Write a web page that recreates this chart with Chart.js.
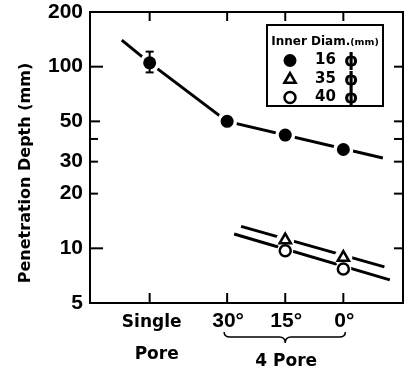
<!DOCTYPE html>
<html>
<head>
<meta charset="utf-8">
<script src="https://cdn.jsdelivr.net/npm/chart.js@4.4.1/dist/chart.umd.min.js"></script>
<style>
  body { margin: 0; background: #fff; }
  canvas { display: block; }
</style>
</head>
<body>
<canvas id="myChart" width="413" height="371"></canvas>
<script>
// categories on the bottom axis and where each one sits on the x scale
const categories = ['Single', '30°', '15°', '0°'];
const catPos = [0, 1, 1.75, 2.5];

// penetration depth (mm) per inner diameter
const d16 = [105, 50, 42, 35];
const d35 = [null, null, 11.1, 8.9];
const d40 = [null, null, 9.7, 7.7];
const err16Low = [93, null, null, null];
const err16High = [121, null, null, null];

// drawn trend lines
const fit16X = [-0.36, 0, 1, 3.01];
const fit16Y = [140, 105, 50, 31.4];
const fit35X = [1.18, 3.03];
const fit35Y = [13.2, 7.9];
const fit40X = [1.09, 3.10];
const fit40Y = [12.0, 6.7];

// y axis
const yTicks = [5, 10, 20, 30, 40, 50, 100, 200];
const yLabels = [5, 10, 20, 30, 50, 100, 200];

const legendTitle = 'Inner Diam.';
const legendUnit = '(mm)';
const legendLabels = ['16', '35', '40'];

const DV = '"DejaVu Sans", sans-serif';
const LS = '"Liberation Sans", Arial, sans-serif';

function pts(xs, ys) {
    const out = [];
    xs.forEach((v, i) => { if (ys[i] != null) out.push({ x: v, y: ys[i] }); });
    return out;
}

function fitSet(xs, ys) {
    return {
        data: pts(xs, ys), showLine: true, borderColor: '#000', borderWidth: 3,
        pointRadius: 0, order: 3
    };
}

function haloSet(ys, r) {
    return {
        data: pts(catPos, ys), showLine: false, pointRadius: r,
        pointBackgroundColor: '#fff', pointBorderWidth: 0, order: 2
    };
}

const markers = [
    { style: 'circle', r: 6.5, fill: '#000', bw: 0 },
    { style: 'triangle', r: 6.5, fill: '#fff', bw: 2.5 },
    { style: 'circle', r: 5.5, fill: '#fff', bw: 2.5 }
];

function markSet(ys, m) {
    return {
        data: pts(catPos, ys), showLine: false, pointStyle: m.style, pointRadius: m.r,
        pointBackgroundColor: m.fill, pointBorderColor: '#000', pointBorderWidth: m.bw, order: 1
    };
}

function line(ctx, x1, y1, x2, y2) {
    ctx.beginPath();
    ctx.moveTo(x1, y1);
    ctx.lineTo(x2, y2);
    ctx.stroke();
}

function drawMarker(ctx, m, px, py) {
    ctx.fillStyle = m.fill;
    ctx.strokeStyle = '#000';
    ctx.lineWidth = m.bw;
    ctx.beginPath();
    if (m.style === 'triangle') {
        let rad = 0;
        ctx.moveTo(px + Math.sin(rad) * m.r, py - Math.cos(rad) * m.r);
        rad += Math.PI * 2 / 3;
        ctx.lineTo(px + Math.sin(rad) * m.r, py - Math.cos(rad) * m.r);
        rad += Math.PI * 2 / 3;
        ctx.lineTo(px + Math.sin(rad) * m.r, py - Math.cos(rad) * m.r);
        ctx.closePath();
    } else {
        ctx.arc(px, py, m.r, 0, Math.PI * 2);
    }
    ctx.fill();
    if (m.bw > 0) ctx.stroke();
}

const decorations = {
    id: 'decorations',
    afterDatasetsDraw(chart) {
        const { ctx, chartArea: a } = chart;
        const x = chart.scales.x, y = chart.scales.y;
        ctx.save();
        ctx.strokeStyle = '#000';
        ctx.fillStyle = '#000';
        ctx.lineWidth = 2;
        ctx.strokeRect(a.left, a.top, a.right - a.left, a.bottom - a.top);

        // inward ticks
        catPos.forEach(p => {
            const px = x.getPixelForValue(p);
            line(ctx, px, a.bottom, px, a.bottom - 10);
            line(ctx, px, a.top, px, a.top + 9);
        });
        yTicks.forEach(v => {
            if (v === yTicks[0] || v === yTicks[yTicks.length - 1]) return;
            const py = y.getPixelForValue(v);
            const len = (v === 10 || v === 100) ? 13 : (v === 50 ? 10 : 8);
            line(ctx, a.left, py, a.left + len, py);
            line(ctx, a.right, py, a.right - 9, py);
        });

        // error bar on single pore
        err16Low.forEach((lo, i) => {
            if (lo == null) return;
            const px = x.getPixelForValue(catPos[i]);
            const y1 = y.getPixelForValue(lo), y2 = y.getPixelForValue(err16High[i]);
            line(ctx, px, y1, px, y2);
            line(ctx, px - 4, y1, px + 4, y1);
            line(ctx, px - 4, y2, px + 4, y2);
        });

        // x labels
        ctx.textAlign = 'center';
        ctx.textBaseline = 'middle';
        const p0 = x.getPixelForValue(catPos[0]);
        ctx.font = 'bold 17px ' + DV;
        ctx.fillText(categories[0], p0 + 2, a.bottom + 20);
        ctx.fillText('Pore', p0 + 7, a.bottom + 52);
        ctx.font = 'bold 21px ' + LS;
        for (let i = 1; i < categories.length; i++) {
            ctx.fillText(categories[i], x.getPixelForValue(catPos[i]) + 1, a.bottom + 18);
        }
        // brace under the 4 pore group
        const bl = x.getPixelForValue(catPos[1]) - 3;
        const bm = x.getPixelForValue(catPos[2]);
        const br = x.getPixelForValue(catPos[3]) + 2;
        const bt = a.bottom + 29, bh = a.bottom + 34, bp = a.bottom + 40;
        ctx.lineWidth = 1.5;
        ctx.beginPath();
        ctx.moveTo(bl, bt);
        ctx.quadraticCurveTo(bl, bh, bl + 6, bh);
        ctx.lineTo(bm - 6, bh);
        ctx.quadraticCurveTo(bm, bh, bm, bp);
        ctx.quadraticCurveTo(bm, bh, bm + 6, bh);
        ctx.lineTo(br - 6, bh);
        ctx.quadraticCurveTo(br, bh, br, bt);
        ctx.stroke();
        ctx.font = 'bold 17px ' + DV;
        ctx.fillText('4 Pore', bm + 1, a.bottom + 59);

        // y title
        ctx.save();
        ctx.translate(26, 173);
        ctx.rotate(-Math.PI / 2);
        ctx.font = 'bold 16px ' + DV;
        ctx.fillText('Penetration Depth (mm)', 0, 0);
        ctx.restore();

        // legend box
        ctx.lineWidth = 2;
        ctx.fillStyle = '#fff';
        ctx.fillRect(267, 25, 116, 81);
        ctx.strokeRect(267, 25, 116, 81);
        ctx.fillStyle = '#000';
        ctx.textAlign = 'left';
        ctx.textBaseline = 'alphabetic';
        ctx.font = 'bold 12px ' + DV;
        const tw = ctx.measureText(legendTitle).width;
        ctx.font = 'bold 9.5px ' + DV;
        const uw = ctx.measureText(legendUnit).width;
        const tx = 325 - (tw + uw) / 2;
        ctx.font = 'bold 12px ' + DV;
        ctx.fillText(legendTitle, tx, 45);
        ctx.font = 'bold 9.5px ' + DV;
        ctx.fillText(legendUnit, tx + tw, 45);
        const rows = [60.5, 79.5, 97.5];
        legendLabels.forEach((lab, i) => {
            drawMarker(ctx, markers[i], 290, rows[i]);
            ctx.fillStyle = '#000';
            ctx.textBaseline = 'middle';
            ctx.font = 'bold 15px ' + DV;
            ctx.fillText(lab, 315, rows[i]);
            ctx.font = 'bold 18px ' + DV;
            ctx.fillText('ϕ', 344, rows[i] + 1);
        });
        ctx.restore();
    }
};

const ctx = document.getElementById('myChart').getContext('2d');
const chart = new Chart(ctx, {
    type: 'scatter',
    data: {
        datasets: [
            fitSet(fit16X, fit16Y),
            fitSet(fit35X, fit35Y),
            fitSet(fit40X, fit40Y),
            haloSet(d16, 10),
            haloSet(d35, 9),
            haloSet(d40, 8),
            markSet(d16, markers[0]),
            markSet(d35, markers[1]),
            markSet(d40, markers[2])
        ]
    },
    options: {
        responsive: false,
        animation: false,
        devicePixelRatio: 1,
        layout: { padding: { top: 12, right: 8, bottom: 68, left: 0 } },
        plugins: { legend: { display: false }, tooltip: { enabled: false } },
        scales: {
            x: { type: 'linear', min: -0.77, max: 3.27, display: false },
            y: {
                type: 'logarithmic', min: 5, max: 200,
                afterBuildTicks: s => { s.ticks = yTicks.map(v => ({ value: v })); },
                afterFit: s => { s.width = 90; s.paddingTop = 0; s.paddingBottom = 0; },
                grid: { display: false, drawTicks: false },
                border: { display: false },
                ticks: {
                    autoSkip: false,
                    padding: 7,
                    color: '#000',
                    font: { family: LS, size: 21, weight: 'bold' },
                    callback: v => yLabels.includes(v) ? String(v) : ''
                }
            }
        }
    },
    plugins: [decorations]
});
</script>
</body>
</html>
